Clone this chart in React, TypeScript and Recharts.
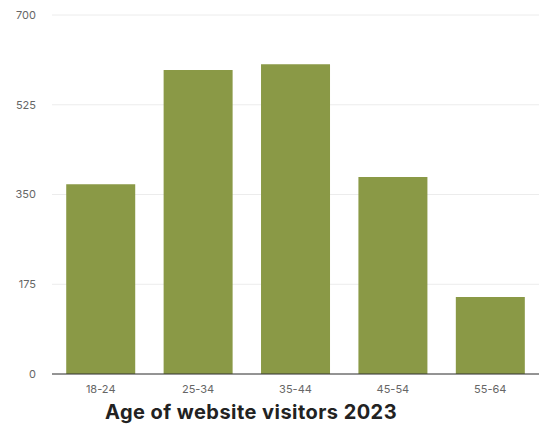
import { BarChart, Bar, XAxis, YAxis, CartesianGrid } from 'recharts';

const ageGroups = ['18-24', '25-34', '35-44', '45-54', '55-64'];
const visitors = [370, 593, 604, 384, 150];
const yTicks = [0, 175, 350, 525, 700];

const data = ageGroups.map((age, i) => ({ age, visitors: visitors[i] }));

export default function App() {
  return (
    <div
      style={{
        position: 'absolute',
        top: 0,
        left: 0,
        width: 544,
        height: 429,
        background: '#fff',
        fontFamily: 'Inter, "Noto Sans", sans-serif',
      }}
    >
      <BarChart
        width={544}
        height={400}
        data={data}
        margin={{ top: 15, right: 5, left: 0, bottom: 0 }}
        barCategoryGap="14.6%"
      >
        <CartesianGrid stroke="#ececec" vertical={false} />
        <XAxis
          dataKey="age"
          height={26}
          tickLine={false}
          tickMargin={5}
          axisLine={{ stroke: '#333', strokeWidth: 1 }}
          tick={{ fill: '#666', fontSize: 11 }}
        />
        <YAxis
          domain={[0, 700]}
          ticks={yTicks}
          width={52}
          tickLine={false}
          axisLine={false}
          tickMargin={10}
          tick={{ fill: '#666', fontSize: 11 }}
        />
        <Bar dataKey="visitors" fill="#8a9946" isAnimationActive={false} />
      </BarChart>
      <div
        style={{
          position: 'absolute',
          left: 0,
          width: 502,
          top: 400,
          textAlign: 'center',
          fontSize: 20,
          letterSpacing: 0.45,
          fontWeight: 700,
          color: '#222',
        }}
      >
        Age of website visitors 2023
      </div>
    </div>
  );
}
